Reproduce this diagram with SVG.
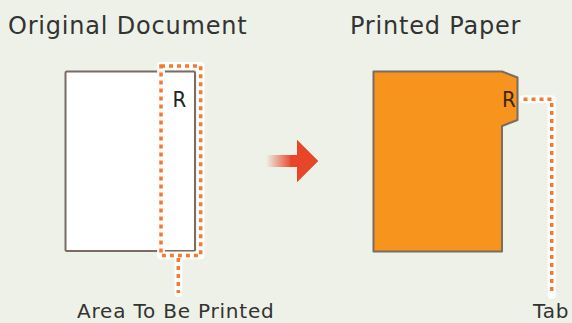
<svg xmlns="http://www.w3.org/2000/svg" width="572" height="323" viewBox="0 0 572 323">
<defs>
<style>
.lbl{font-family:"DejaVu Sans","Verdana",sans-serif;fill:#333;letter-spacing:0.8px}
.big{font-size:24px}
.small{font-size:20px}
.r{font-family:"DejaVu Sans Condensed","DejaVu Sans",sans-serif;font-size:22px}
.halo{fill:none;stroke:#fff;stroke-width:8;stroke-linejoin:round;stroke-linecap:round;opacity:0.9}
.dot{fill:none;stroke:#F37A2E;stroke-width:3.5;stroke-dasharray:4 4}
.paper{stroke:#7a6b64;stroke-width:2;stroke-linejoin:round}
</style>
<linearGradient id="ag" x1="266" y1="0" x2="292" y2="0" gradientUnits="userSpaceOnUse">
<stop offset="0" stop-color="#E8462B" stop-opacity="0"/>
<stop offset="1" stop-color="#E8462B"/>
</linearGradient>
</defs>
<rect width="572" height="323" fill="#EDF1E8"/>
<g id="original">
<text class="lbl big" x="8" y="34">Original Document</text>
<rect class="paper" x="65.5" y="71.5" width="129.5" height="179.5" rx="1.5" fill="#fff"/>
<text class="r" x="172.5" y="106.5" fill="#222">R</text>
</g>
<g id="printed">
<text class="lbl big" x="350" y="34">Printed Paper</text>
<path class="paper" d="M373.5 71.5 H502 L517.5 77.5 V120 L502 126 V251.5 H373.5 Z" fill="#F7941D"/>
<text class="r" x="502" y="106.5" fill="#3a2810">R</text>
</g>
<g id="arrow">
<path d="M266 155 H297 V140 L318 161 L297 182 V167 H266 Z" fill="url(#ag)"/>
<path d="M290 155 H297 V140 L318 161 L297 182 V167 H290 Z" fill="#E8462B"/>
</g>
<g id="connectors">
<path class="halo" d="M161 66 H200.7 V255.5 H161 Z M178.3 255.5 V293"/>
<path class="halo" d="M523.5 99.3 H551.7 V295"/>
<path class="dot" d="M161 66 H200.7 V255.5 H161 Z"/>
<path class="dot" d="M178.3 258 V293"/>
<path class="dot" d="M523.5 99.3 H551.7 V295"/>
</g>
<g id="labels">
<text class="lbl small" x="77" y="318">Area To Be Printed</text>
<text class="lbl small" x="533" y="318">Tab</text>
</g>
</svg>
